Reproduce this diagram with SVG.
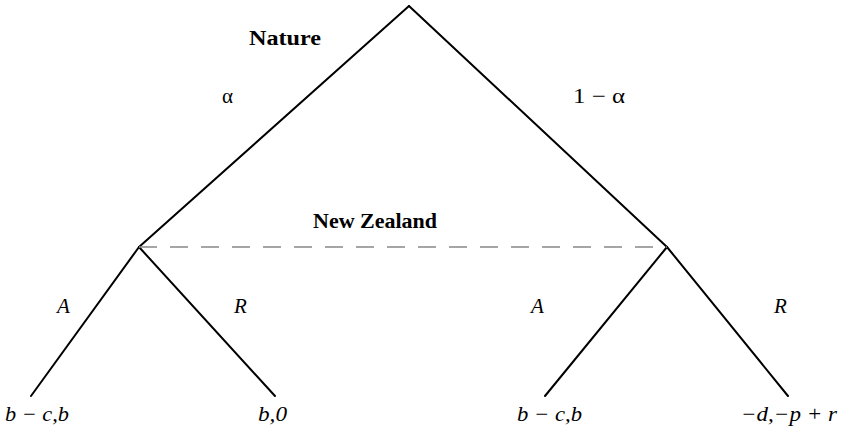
<svg xmlns="http://www.w3.org/2000/svg" width="843" height="431" viewBox="0 0 843 431">
<style>
.e{stroke:#000;stroke-width:2;fill:none;stroke-linecap:round}
.lab{font-family:"Liberation Serif","DejaVu Serif",serif;font-size:21px;fill:#000}
.b{font-weight:bold;font-size:20px}
.i{font-style:italic}
</style>
<rect width="843" height="431" fill="#fff"/>
<g id="connectors">
<line class="e" x1="409" y1="6" x2="139" y2="247"/>
<line class="e" x1="409" y1="6" x2="667" y2="247"/>
<line class="e" x1="139" y1="247" x2="31" y2="396"/>
<line class="e" x1="139" y1="247" x2="275" y2="396"/>
<line class="e" x1="667" y1="247" x2="545" y2="396"/>
<line class="e" x1="667" y1="247" x2="788" y2="396"/>
<line x1="139" y1="247" x2="667" y2="247" stroke="#888" stroke-width="1.3" stroke-dasharray="18,13"/>
</g>
<g id="nature"><text class="lab b" x="249" y="45" textLength="72" lengthAdjust="spacingAndGlyphs">Nature</text></g>
<g id="newzealand"><text class="lab b" x="313" y="228" textLength="124" lengthAdjust="spacingAndGlyphs">New Zealand</text></g>
<g id="edge-labels">
<text class="lab" x="222" y="103">α</text>
<text class="lab" x="573" y="103" textLength="52" lengthAdjust="spacingAndGlyphs">1 − α</text>
<text class="lab i" x="57" y="313">A</text>
<text class="lab i" x="234" y="313">R</text>
<text class="lab i" x="531" y="313">A</text>
<text class="lab i" x="774" y="313">R</text>
</g>
<g id="leaf1"><text class="lab i" x="5" y="421" textLength="64" lengthAdjust="spacingAndGlyphs">b − c,b</text></g>
<g id="leaf2"><text class="lab i" x="258" y="421" textLength="29" lengthAdjust="spacingAndGlyphs">b,0</text></g>
<g id="leaf3"><text class="lab i" x="517" y="421" textLength="65" lengthAdjust="spacingAndGlyphs">b − c,b</text></g>
<g id="leaf4"><text class="lab i" x="741" y="421" textLength="96" lengthAdjust="spacingAndGlyphs">−d,−p + r</text></g>
</svg>
